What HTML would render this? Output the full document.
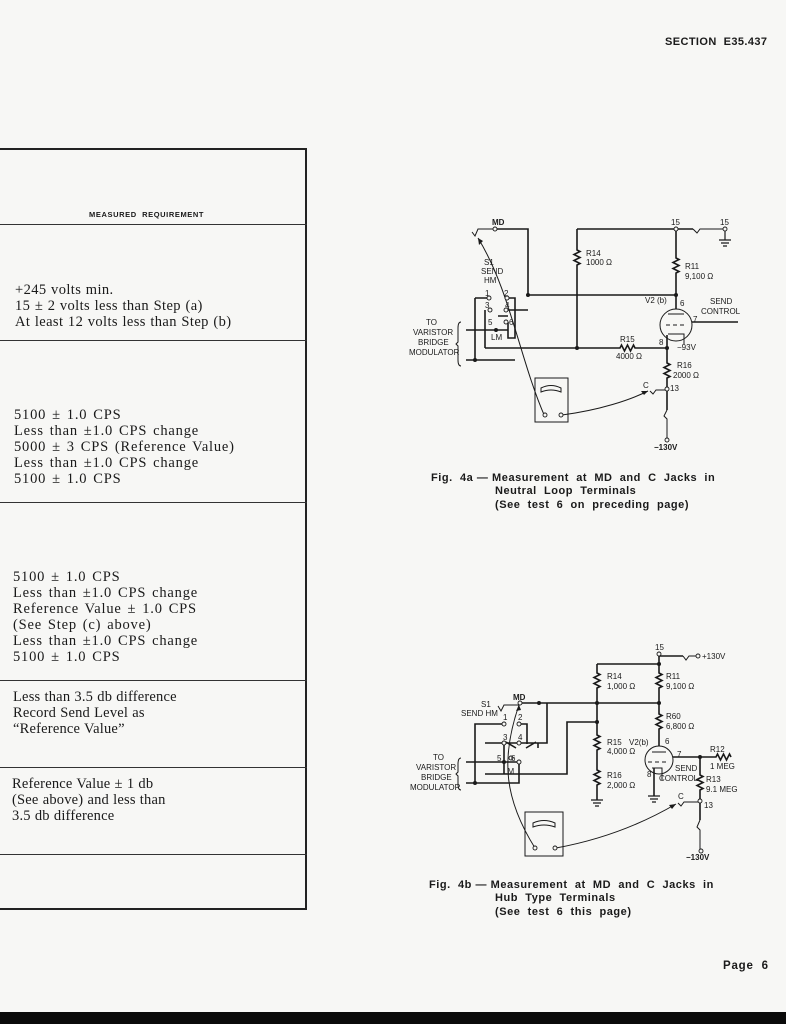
<!DOCTYPE html>
<html><head><meta charset="utf-8"><style>
html,body{margin:0;padding:0}
body{width:786px;height:1024px;position:relative;background:#f7f7f5;overflow:hidden;font-family:"Liberation Sans",sans-serif;color:#1a1a1a}
.t{position:absolute;font-family:"Liberation Serif",serif;font-size:14.5px;line-height:16px;letter-spacing:0.8px;word-spacing:1.5px;white-space:nowrap}
.cap{position:absolute;font-weight:bold;font-size:11px;line-height:13.5px;letter-spacing:0.55px;white-space:nowrap}
</style></head><body>
<div style="position:absolute;left:665px;top:36px;font-weight:bold;font-size:11px;letter-spacing:0.4px">SECTION&nbsp; E35.437</div>
<div style="position:absolute;left:0;top:148px;width:307px;height:762px;border:2px solid #222;border-left:none;box-sizing:border-box"></div>
<div style="position:absolute;left:0;top:224px;width:307px;border-top:1.5px solid #333"></div>
<div style="position:absolute;left:0;top:340px;width:307px;border-top:1.5px solid #333"></div>
<div style="position:absolute;left:0;top:502px;width:307px;border-top:1.5px solid #333"></div>
<div style="position:absolute;left:0;top:680px;width:307px;border-top:1.5px solid #333"></div>
<div style="position:absolute;left:0;top:767px;width:307px;border-top:1.5px solid #333"></div>
<div style="position:absolute;left:0;top:854px;width:307px;border-top:1.5px solid #333"></div>
<div style="position:absolute;left:89px;top:210px;font-weight:bold;font-size:7.5px;letter-spacing:0.6px">MEASURED&nbsp; REQUIREMENT</div>
<div class="t" style="left:15px;top:282px;letter-spacing:0.4px;word-spacing:0.5px">+245 volts min.<br>15 ± 2 volts less than Step (a)<br>At least 12 volts less than Step (b)</div>
<div class="t" style="left:14px;top:407px">5100 ± 1.0 CPS<br>Less than ±1.0 CPS change<br>5000 ± 3 CPS (Reference Value)<br>Less than ±1.0 CPS change<br>5100 ± 1.0 CPS</div>
<div class="t" style="left:13px;top:569px">5100 ± 1.0 CPS<br>Less than ±1.0 CPS change<br>Reference Value ± 1.0 CPS<br>(See Step (c) above)<br>Less than ±1.0 CPS change<br>5100 ± 1.0 CPS</div>
<div class="t" style="left:13px;top:689px;letter-spacing:0.2px;word-spacing:0.3px">Less than 3.5 db difference<br>Record Send Level as<br>“Reference Value”</div>
<div class="t" style="left:12px;top:776px;letter-spacing:0.2px;word-spacing:0.3px">Reference Value ± 1 db<br>(See above) and less than<br>3.5 db difference</div>

<svg width="786" height="1024" style="position:absolute;left:0;top:0" font-family="Liberation Sans,sans-serif" font-size="8" fill="none" stroke="#1a1a1a">
<!-- FIG 4a -->
<g stroke-width="1.6">
<path d="M495 229H528V295H676"/>
<path d="M577 229H676M676 229H693"/>
<path d="M577 229V250 l3 1.5 l-6 3 l6 3 l-6 3 l6 3 l-3 1.5 V348"/>
<path d="M676 229V258 l3 1.5 l-6 3 l6 3 l-6 3 l6 3 l-3 1.5 V309"/>
<path d="M485 348H620 l1.5 -3 l3 6 l3 -6 l3 6 l3 -6 l1.5 3 H667"/>
<path d="M667 335V363 l3 1.5 l-6 3 l6 3 l-6 3 l6 3 l-3 1.5 V410"/>
<path d="M692 322H738"/>
<path d="M475 298H489M475 298V360M466 330H508M466 360H515M507 298H515V338H508V322M485 310V348M498 316H508M506 310H528"/>
<path d="M725 229V240M719 240H731M721 243H729M723 246H727" stroke-width="1.2"/>
</g>
<g stroke-width="1">
<path d="M472 232l3 4 l3 -7 H495"/>
<path d="M693 229 l4 4 l3 -4 H725"/>
<path d="M650 391 l3 3 l3 -4 H667"/>
<path d="M667 410 l-3 6 l3 3 V440"/>
<path d="M461 322 q-3 0 -3 6 v14 l-2 2 l2 2 v14 q0 6 3 6"/>
<path d="M545 417 C520 360 510 290 478 238"/>
<path d="M562 415 C600 410 630 400 648 391"/>
<circle cx="676" cy="325" r="16"/>
<path d="M668 314H684M666 325h4M673 325h4M680 325h4M668 334H684V344"/>
<rect x="535" y="378" width="33" height="44"/>
<path d="M541 388 q10 -5 20 0 v4 q-10 -4 -20 0z"/>
</g>
<g fill="#1a1a1a" stroke="none">
<circle cx="528" cy="295" r="2"/><circle cx="676" cy="295" r="2"/><circle cx="577" cy="348" r="2"/><circle cx="667" cy="348" r="2"/><circle cx="475" cy="360" r="2"/><circle cx="496" cy="330" r="2"/>
<path d="M478 238 l1 7 l4 -4z"/><path d="M648 391 l-7 0 l3 4z"/>
</g>
<g fill="#f7f7f5" stroke-width="0.9"><circle cx="495" cy="229" r="2"/><circle cx="676" cy="229" r="2"/><circle cx="725" cy="229" r="2"/><circle cx="667" cy="389" r="2"/><circle cx="667" cy="440" r="2"/><circle cx="489" cy="298" r="2"/><circle cx="507" cy="298" r="2"/><circle cx="490" cy="310" r="2"/><circle cx="506" cy="310" r="2"/><circle cx="506" cy="322" r="2"/><circle cx="545" cy="415" r="2"/><circle cx="561" cy="415" r="2"/></g>
<g fill="#1a1a1a" stroke="none" font-size="8">
<text x="492" y="225" font-weight="bold">MD</text><text x="671" y="225">15</text><text x="720" y="225">15</text>
<text x="586" y="256">R14</text><text x="586" y="265">1000 Ω</text>
<text x="685" y="269">R11</text><text x="685" y="279">9,100 Ω</text>
<text x="484" y="265">S1</text><text x="481" y="274">SEND</text><text x="484" y="283">HM</text>
<text x="485" y="296">1</text><text x="504" y="296">2</text><text x="485" y="308">3</text><text x="505" y="308">4</text><text x="488" y="325">5</text><text x="509" y="325">6</text><text x="491" y="340">LM</text>
<text x="426" y="325">TO</text><text x="413" y="335">VARISTOR</text><text x="418" y="345">BRIDGE</text><text x="409" y="355">MODULATOR</text>
<text x="645" y="303">V2 (b)</text><text x="680" y="306">6</text><text x="710" y="304">SEND</text><text x="701" y="314">CONTROL</text><text x="693" y="322">7</text>
<text x="620" y="342">R15</text><text x="616" y="359">4000 Ω</text><text x="659" y="345">8</text><text x="677" y="350">−93V</text>
<text x="677" y="368">R16</text><text x="673" y="378">2000 Ω</text><text x="670" y="391">13</text><text x="643" y="388">C</text>
<text x="654" y="450" font-weight="bold">−130V</text>
</g>

<!-- FIG 4b -->
<g stroke-width="1.6">
<path d="M597 664H659M659 654V664M659 656H683"/>
<path d="M597 664V673 l3 1.5 l-6 3 l6 3 l-6 3 l6 3 l-3 1.5 V703"/>
<path d="M659 664V673 l3 1.5 l-6 3 l6 3 l-6 3 l6 3 l-3 1.5 V703"/>
<path d="M520 703H659"/>
<path d="M659 703V714 l3 1.5 l-6 3 l6 3 l-6 3 l6 3 l-3 1.5 V746"/>
<path d="M597 703V735 l3 1.5 l-6 3 l6 3 l-6 3 l6 3 l-3 1.5 V770 l3 1.5 l-6 3 l6 3 l-6 3 l6 3 l-3 1.5 V800"/>
<path d="M597 722H567V774H485"/>
<path d="M673 757H716 l1.5 -3 l3 6 l3 -6 l3 6 l3 -6 l1.5 3"/>
<path d="M700 757V775 l3 1.5 l-6 3 l6 3 l-6 3 l6 3 l-3 1.5 V820"/>
<path d="M654 768V796"/>
<path d="M504 724H475V783M475 783H519V762M485 743H539M466 762H519M466 783H475M519 724H527V744M504 743V774M538 743V748M506 742l10 6M536 742l-10 6M539 743H538M530 743H547V703"/>
<path d="M591 800H603M593 803H601M595 806H599M648 796H660M650 799H658M652 802H656" stroke-width="1.2"/>
</g>
<g stroke-width="1">
<path d="M498 706 l3 5 l3 -6 H520"/>
<path d="M683 656 l3 4 l3 -4 H696"/>
<path d="M678 803 l3 3 l3 -4 H700"/>
<path d="M700 820 l-3 7 l3 3 V849"/>
<path d="M461 758 q-3 0 -3 6 v8 l-2 2 l2 2 v8 q0 6 3 6"/>
<path d="M535 848 C505 800 500 760 519 705"/>
<path d="M556 848 C600 840 640 825 676 804"/>
<circle cx="659" cy="760" r="14"/>
<path d="M652 752H666M648 762h4M655 762h4M662 762h4M652 768H662V780"/>
<rect x="525" y="812" width="38" height="44"/>
<path d="M533 823 q11 -5 22 0 v4 q-11 -4 -22 0z"/>
</g>
<g fill="#1a1a1a" stroke="none">
<circle cx="539" cy="703" r="2"/><circle cx="597" cy="703" r="2"/><circle cx="659" cy="703" r="2"/><circle cx="659" cy="664" r="2"/><circle cx="597" cy="722" r="2"/><circle cx="700" cy="757" r="2"/><circle cx="475" cy="783" r="2"/><circle cx="504" cy="762" r="2"/>
<path d="M519 705 l-3 6 l5 -1z"/><path d="M676 804 l-7 1 l3 4z"/>
</g>
<g fill="#f7f7f5" stroke-width="0.9"><circle cx="659" cy="654" r="2"/><circle cx="698" cy="656" r="2"/><circle cx="520" cy="703" r="2"/><circle cx="504" cy="724" r="2"/><circle cx="519" cy="724" r="2"/><circle cx="504" cy="743" r="2"/><circle cx="519" cy="743" r="2"/><circle cx="511" cy="758" r="2"/><circle cx="519" cy="762" r="2"/><circle cx="700" cy="801" r="2"/><circle cx="701" cy="851" r="2"/><circle cx="535" cy="848" r="2"/><circle cx="555" cy="848" r="2"/></g>
<g fill="#1a1a1a" stroke="none" font-size="8">
<text x="655" y="650">15</text><text x="702" y="659">+130V</text>
<text x="607" y="679">R14</text><text x="607" y="689">1,000 Ω</text>
<text x="666" y="679">R11</text><text x="666" y="689">9,100 Ω</text>
<text x="513" y="700" font-weight="bold">MD</text><text x="481" y="707">S1</text><text x="461" y="716">SEND HM</text>
<text x="503" y="720">1</text><text x="518" y="720">2</text><text x="503" y="740">3</text><text x="518" y="740">4</text><text x="497" y="761">5</text><text x="511" y="761">6</text><text x="503" y="774">LM</text>
<text x="433" y="760">TO</text><text x="416" y="770">VARISTOR</text><text x="421" y="780">BRIDGE</text><text x="410" y="790">MODULATOR</text>
<text x="666" y="719">R60</text><text x="666" y="729">6,800 Ω</text>
<text x="607" y="745">R15</text><text x="607" y="754">4,000 Ω</text><text x="629" y="745">V2(b)</text><text x="665" y="744">6</text><text x="677" y="757">7</text>
<text x="607" y="778">R16</text><text x="607" y="788">2,000 Ω</text><text x="647" y="777">8</text>
<text x="675" y="771">SEND</text><text x="659" y="781">CONTROL</text>
<text x="710" y="752">R12</text><text x="710" y="769">1 MEG</text><text x="706" y="782">R13</text><text x="706" y="792">9.1 MEG</text>
<text x="678" y="799">C</text><text x="704" y="808">13</text>
<text x="686" y="860" font-weight="bold">−130V</text>
</g>
</svg>

<div class="cap" style="left:431px;top:472px">Fig.&nbsp; 4a — Measurement&nbsp; at&nbsp; MD&nbsp; and&nbsp; C&nbsp; Jacks&nbsp; in</div>
<div class="cap" style="left:495px;top:485px">Neutral&nbsp; Loop&nbsp; Terminals</div>
<div class="cap" style="left:495px;top:499px">(See&nbsp; test&nbsp; 6&nbsp; on&nbsp; preceding&nbsp; page)</div>
<div class="cap" style="left:429px;top:879px">Fig.&nbsp; 4b — Measurement&nbsp; at&nbsp; MD&nbsp; and&nbsp; C&nbsp; Jacks&nbsp; in</div>
<div class="cap" style="left:495px;top:892px">Hub&nbsp; Type&nbsp; Terminals</div>
<div class="cap" style="left:495px;top:906px">(See&nbsp; test&nbsp; 6&nbsp; this&nbsp; page)</div>
<div style="position:absolute;left:723px;top:960px;font-weight:bold;font-size:11.5px;letter-spacing:0.8px">Page&nbsp; 6</div>
<div style="position:absolute;left:0;top:1012px;width:786px;height:12px;background:#0a0a0a"></div>
</body></html>
